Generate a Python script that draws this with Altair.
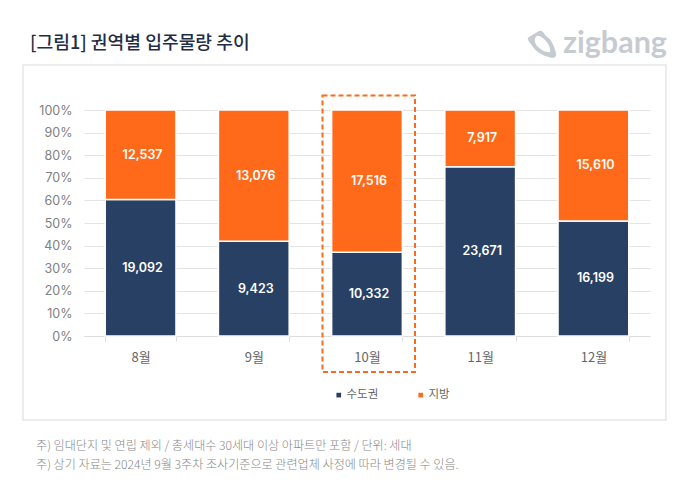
import altair as alt
import pandas as pd

months = ["8월", "9월", "10월", "11월", "12월"]
capital = [19092, 9423, 10332, 23671, 16199]
local = [12537, 13076, 17516, 7917, 15610]
regions = ["수도권", "지방"]
title_text = "[그림1] 권역별 입주물량 추이"
notes = [
    "주) 임대단지 및 연립 제외 / 총세대수 30세대 이상 아파트만 포함 / 단위: 세대",
    "주) 상기 자료는 2024년 9월 3주차 조사기준으로 관련업체 사정에 따라 변경될 수 있음.",
]
KR = "Noto Sans CJK KR"
NAVY = "#284064"
ORANGE = "#ff6a1a"

rows = []
for m, a, b in zip(months, capital, local):
    rows.append({"month": m, "region": regions[0], "value": a})
    rows.append({"month": m, "region": regions[1], "value": b})
df = pd.DataFrame(rows)

base = alt.Chart(df).transform_stack(
    stack="value", groupby=["month"], as_=["y0", "y1"], offset="normalize",
    sort=[alt.SortField("region", order="ascending")],
).transform_calculate(mid="(datum.y0+datum.y1)/2")

x_axis = alt.Axis(labelAngle=0, labelFont=KR, labelFontSize=13, labelColor="#666666",
                  labelPadding=10, domainColor="#dddddd", tickColor="#dddddd", tickSize=5,
                  tickBand="extent", grid=False)
y_axis = alt.Axis(format=".0%", values=[i / 10 for i in range(11)], labelFont="Inter",
                  labelFontSize=12.5, labelColor="#808080", labelPadding=12, tickSize=0,
                  labelOverlap=False, labelBound=False, labelFlush=False,
                  domain=False, grid=True, gridColor="#e4e4e4", gridWidth=1.2)
x_scale = alt.Scale(paddingInner=0.375, paddingOuter=0.1875)
y_scale = alt.Scale(domain=[0, 1])

bars = base.mark_bar(stroke="white", strokeWidth=1.5).encode(
    x=alt.X("month:N", sort=months, title=None, scale=x_scale, axis=x_axis),
    y=alt.Y("y1:Q", title=None, scale=y_scale, axis=y_axis),
    y2="y0:Q",
    color=alt.Color("region:N", sort=regions,
                    scale=alt.Scale(domain=regions, range=[NAVY, ORANGE]),
                    legend=alt.Legend(title=None, orient="none", legendX=249, legendY=279,
                                      direction="horizontal", symbolType="square", symbolSize=22,
                                      symbolStrokeWidth=0, labelFont=KR, labelFontSize=11.5,
                                      labelColor="#666666", columnPadding=36, labelOffset=2)),
)
labels = base.mark_text(color="white", font="Inter", fontSize=12.5, fontWeight=600, dx=2).encode(
    x=alt.X("month:N", sort=months, title=None, scale=x_scale, axis=x_axis),
    y=alt.Y("mid:Q", title=None, scale=y_scale, axis=y_axis),
    text=alt.Text("value:Q", format=","),
)

def vtext(t, px, py, **kw):
    return alt.Chart(pd.DataFrame({"t": [t]})).mark_text(align="left", baseline="middle", **kw).encode(
        x=alt.value(px - 84), y=alt.value(py - 110), text="t:N")

def box(l, t, r, b, **kw):
    return alt.Chart(pd.DataFrame({"k": [0]})).mark_rect(fillOpacity=0, **kw).encode(
        x=alt.value(l - 84), x2=alt.value(r - 84), y=alt.value(t - 110), y2=alt.value(b - 110))

frame = box(23, 65, 666, 420, stroke="#e6e6e6", strokeWidth=1.5)
dashed = box(322.5, 95.5, 415, 372, stroke=ORANGE, strokeWidth=2, strokeDash=[5, 3])

title = vtext(title_text, 30, 44, font=KR, fontSize=18.2, fontWeight=500, color="#1f2d47")
note1 = vtext(notes[0], 36, 446, font=KR, fontSize=12.1, fontWeight=300, color="#888888")
note2 = vtext(notes[1], 36, 465, font=KR, fontSize=12.1, fontWeight=300, color="#888888")
logo = vtext("zigbang", 563, 44, font="Lato", fontSize=30.5, fontWeight="bold", color="#c6cbd1")

ICON = ("M-13,-7 L-3,-13 Q-1,-14 1,-12 L4,-8 C9,-5 12,1 14,9 Q15,13 11,14 C3,13 -6,8 -9,3 L-14,-4 Q-15,-6 -13,-7 Z "
        "M-5,-8 C-8,-6 -8,-2 -5,2 C-1,6 5,9 8,8 C9,4 6,-1 3,-4 C0,-7 -3,-9 -5,-8 Z")
icon = alt.Chart(pd.DataFrame({"k": [0]})).mark_point(
    shape=ICON, size=4.0, filled=True, color="#c6cbd1", opacity=1
).encode(x=alt.value(542 - 84), y=alt.value(44 - 110))

chart = alt.layer(frame, bars, labels, dashed, title, note1, note2, logo, icon).properties(
    width=566, height=226,
    padding={"left": 76, "top": 102, "right": 42, "bottom": 153},
    autosize=alt.AutoSizeParams(type="none"),
    background="white",
).configure_view(stroke=None)

chart.save("out.html", embed_options={"renderer": "svg", "actions": False})
